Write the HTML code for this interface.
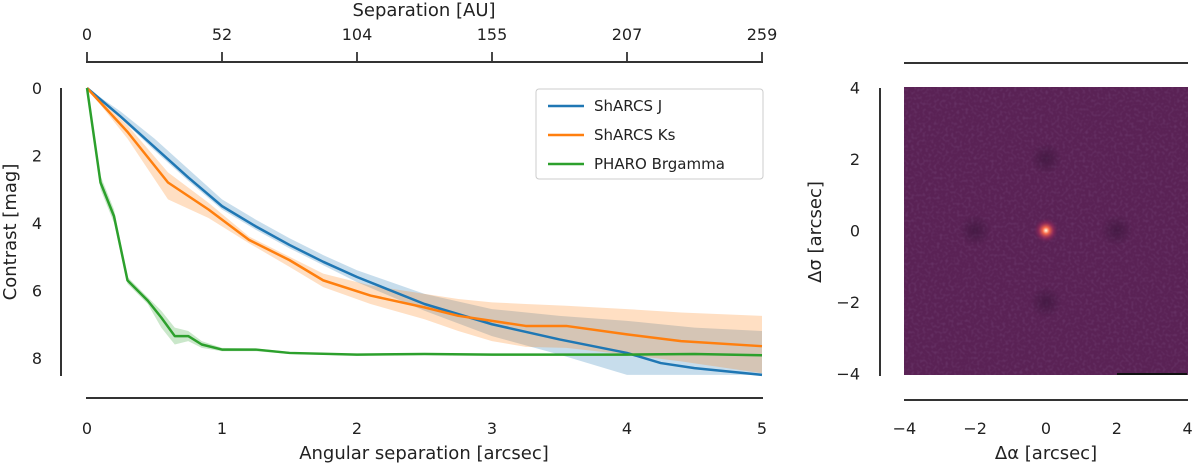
<!DOCTYPE html>
<html><head><meta charset="utf-8"><style>
body{margin:0;background:#fff;}
svg{font-family:"DejaVu Sans","Liberation Sans",sans-serif;}
</style></head><body>
<svg id="fig" width="1200" height="467" xmlns="http://www.w3.org/2000/svg"></svg>
<script>
const xTicks=[0,1,2,3,4,5];
const auLabels=["0","52","104","155","207","259"];
const yTicks=[0,2,4,6,8];
const jX=[0,0.25,0.5,0.75,1.0,1.25,1.5,1.75,2,2.5,3,3.5,4,4.25,4.5,5];
const jY=[0,0.85,1.75,2.65,3.5,4.1,4.65,5.15,5.6,6.4,7.0,7.45,7.85,8.15,8.3,8.5];
const jLo=[0,0.7,1.5,2.4,3.3,3.9,4.45,4.95,5.4,6.1,6.55,6.75,6.9,7.0,7.1,7.2];
const jHi=[0,0.9,1.85,2.75,3.6,4.2,4.75,5.25,5.75,6.6,7.35,7.9,8.5,8.5,8.5,8.5];
const kX=[0,0.3,0.6,0.9,1.2,1.5,1.75,2.1,2.5,2.75,3,3.25,3.55,4,4.4,5];
const kY=[0,1.3,2.8,3.6,4.5,5.1,5.7,6.15,6.5,6.75,6.9,7.05,7.05,7.3,7.5,7.65];
const kLo=[0,1.1,2.5,3.4,4.4,5.0,5.5,5.85,6.1,6.25,6.35,6.4,6.45,6.55,6.65,6.75];
const kHi=[0,1.5,3.3,3.85,4.6,5.3,5.9,6.4,6.85,7.2,7.5,7.67,7.7,7.9,8.1,8.45];
const gX=[0,0.1,0.2,0.3,0.45,0.55,0.65,0.75,0.85,1,1.25,1.5,2,2.5,3,3.5,4,4.5,5];
const gY=[0,2.8,3.8,5.7,6.3,6.8,7.35,7.35,7.6,7.75,7.75,7.85,7.9,7.88,7.9,7.9,7.9,7.88,7.92];
const gLo=[0,2.6,3.6,5.6,6.2,6.6,7.1,7.2,7.5,7.7,7.72,7.82,7.88,7.86,7.88,7.88,7.88,7.86,7.9];
const gHi=[0,3.0,4.0,5.8,6.4,7.1,7.6,7.5,7.7,7.8,7.8,7.88,7.93,7.91,7.93,7.93,7.93,7.91,7.95];
const imTicks=[-4,-2,0,2,4];

const NS="http://www.w3.org/2000/svg";
const svg=document.getElementById('fig');
function mk(t,a,p){const e=document.createElementNS(NS,t);for(const k in a)e.setAttribute(k,a[k]);(p||svg).appendChild(e);return e;}
const X=v=>87+135*v, Y=v=>88+33.75*v;
const ax='#333';
const TF=16, LF=18;
let e;
e=mk('line',{x1:61,y1:88,x2:61,y2:376,stroke:ax,'stroke-width':2});

e=mk('line',{x1:86,y1:398,x2:763,y2:398,stroke:ax,'stroke-width':2});

e=mk('line',{x1:86,y1:62,x2:763,y2:62,stroke:ax,'stroke-width':2});

xTicks.forEach((v,i)=>{
  let t=mk('text',{x:X(v),y:434,'font-size':TF,'text-anchor':'middle',fill:'#222'});t.textContent=v;
  
  mk('line',{x1:X(v),y1:62,x2:X(v),y2:52,stroke:ax,'stroke-width':1.8});
  t=mk('text',{x:X(v),y:40,'font-size':TF,'text-anchor':'middle',fill:'#222'});t.textContent=auLabels[i];
  
});
yTicks.forEach(v=>{
  let t=mk('text',{x:42,y:Y(v)+6,'font-size':TF,'text-anchor':'end',fill:'#222'});t.textContent=v;
  
});
e=mk('text',{x:424,y:459,'font-size':LF,'text-anchor':'middle',fill:'#222'});e.textContent='Angular separation [arcsec]';

e=mk('text',{x:424,y:16,'font-size':LF,'text-anchor':'middle',fill:'#222'});e.textContent='Separation [AU]';

e=mk('text',{x:0,y:0,'font-size':LF,'text-anchor':'middle',fill:'#222',transform:'translate(16,232) rotate(-90)'});e.textContent='Contrast [mag]';


function band(xs,lo,hi,col,name){
  let d='M'+xs.map((x,i)=>X(x)+','+Y(lo[i])).join('L')+'L'+xs.map((x,i)=>X(x)+','+Y(hi[i])).reverse().join('L')+'Z';
  const p=mk('path',{d:d,fill:col,'fill-opacity':0.25,stroke:'none'});
  
}
function line(xs,ys,col,name){
  const p=mk('polyline',{points:xs.map((x,i)=>X(x)+','+Y(ys[i])).join(' '),fill:'none',stroke:col,'stroke-width':2.5,'stroke-linejoin':'round'});
  
}
band(jX,jLo,jHi,'#1f77b4','sharcs-j-band');
band(kX,kLo,kHi,'#ff7f0e','sharcs-ks-band');
band(gX,gLo,gHi,'#2ca02c','pharo-band');
line(jX,jY,'#1f77b4','sharcs-j-line');
line(kX,kY,'#ff7f0e','sharcs-ks-line');
line(gX,gY,'#2ca02c','pharo-line');

const lg=mk('g',{});
mk('rect',{x:536,y:89,width:227,height:90,rx:3,fill:'#fff','fill-opacity':0.8,stroke:'#ccc'},lg);
[['ShARCS J','#1f77b4'],['ShARCS Ks','#ff7f0e'],['PHARO Brgamma','#2ca02c']].forEach((s,i)=>{
  const g=mk('g',{},lg);
  const y=106+i*29;
  mk('line',{x1:548,y1:y,x2:584,y2:y,stroke:s[1],'stroke-width':2.5},g);
  const t=mk('text',{x:594,y:y+5,'font-size':15,fill:'#222'},g);t.textContent=s[0];
});

// image panel
const IX=v=>1046+35.4*v, IY=v=>230.5-35.8*v;
e=mk('line',{x1:880,y1:88,x2:880,y2:376,stroke:ax,'stroke-width':2});

e=mk('line',{x1:904,y1:400,x2:1188,y2:400,stroke:ax,'stroke-width':2});

e=mk('line',{x1:904,y1:63,x2:1188,y2:63,stroke:ax,'stroke-width':2});

const defs=mk('defs',{});
const rg=mk('radialGradient',{id:'star'},defs);
mk('stop',{offset:'0','stop-color':'#fffbe0'},rg);
mk('stop',{offset:'0.25','stop-color':'#f86a4a'},rg);
mk('stop',{offset:'0.6','stop-color':'#a02a5a','stop-opacity':0.6},rg);
mk('stop',{offset:'1','stop-color':'#5a1d50','stop-opacity':0},rg);
const dg=mk('radialGradient',{id:'dark'},defs);
mk('stop',{offset:'0','stop-color':'#2a0f2e','stop-opacity':0.45},dg);
mk('stop',{offset:'1','stop-color':'#2a0f2e','stop-opacity':0},dg);
const flt=mk('filter',{id:'noise',x:0,y:0,width:'100%',height:'100%'},defs);
mk('feTurbulence',{type:'fractalNoise',baseFrequency:0.35,numOctaves:1,seed:3,result:'n'},flt);
mk('feColorMatrix',{type:'matrix',values:'0 0 0 0 0.16  0 0 0 0 0.05  0 0 0 0 0.17  0 0 0 -1.4 0.75'},flt);
const img=mk('g',{});
mk('rect',{x:904,y:87,width:284,height:288,fill:'#5a2255'},img);
mk('rect',{x:904,y:87,width:284,height:288,filter:'url(#noise)'},img);
[[-2,0],[2,0],[0,2],[0,-2]].forEach(p=>mk('circle',{cx:IX(p[0]),cy:IY(p[1]),r:16,fill:'url(#dark)'},img));
mk('circle',{cx:IX(0),cy:IY(0),r:13,fill:'url(#star)'},img);
mk('rect',{x:1117,y:373,width:70,height:2,fill:'#111'},img);
imTicks.forEach(v=>{
  let t=mk('text',{x:IX(v),y:434,'font-size':TF,'text-anchor':'middle',fill:'#222'});t.textContent=(v<0?'−'+(-v):v);
  
  t=mk('text',{x:860,y:IY(v)+6,'font-size':TF,'text-anchor':'end',fill:'#222'});t.textContent=(v<0?'−'+(-v):v);
  
});
e=mk('text',{x:1046,y:459,'font-size':LF,'text-anchor':'middle',fill:'#222'});e.textContent='Δα [arcsec]';

e=mk('text',{x:0,y:0,'font-size':LF,'text-anchor':'middle',fill:'#222',transform:'translate(821,232) rotate(-90)'});e.textContent='Δσ [arcsec]';

</script>
</body></html>
